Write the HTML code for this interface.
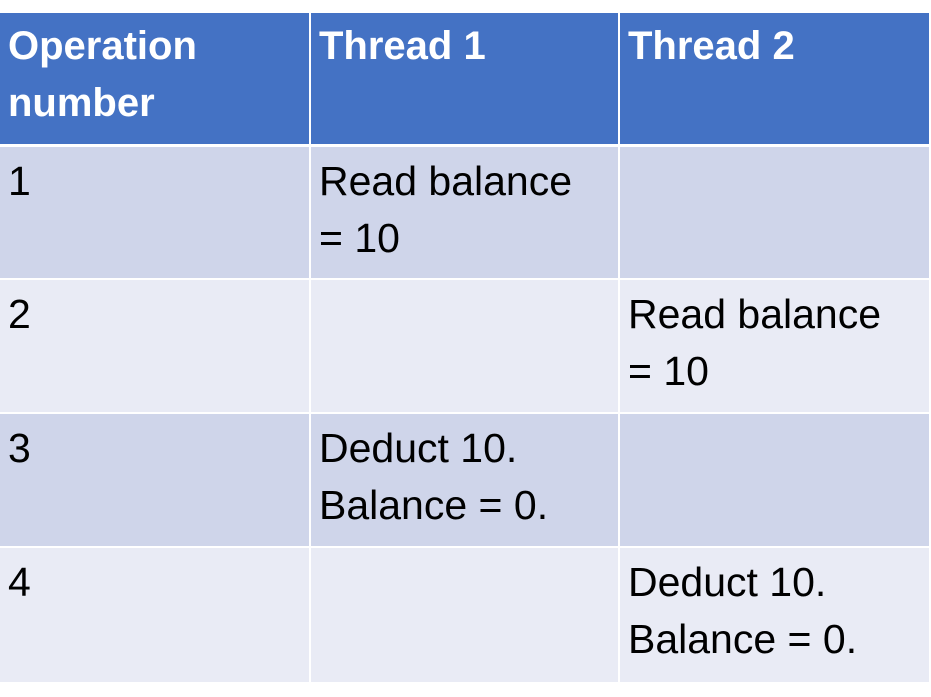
<!DOCTYPE html>
<html><head><style>
body{margin:0;width:931px;height:697px;background:#fff;position:relative;overflow:hidden;font-family:"Liberation Sans",sans-serif;}
.c{position:absolute;box-sizing:border-box;padding:6px 0 0 8px;font-size:41px;line-height:57px;color:#000;white-space:nowrap;}
.h{background:#4472c4;color:#fff;font-weight:bold;font-size:40px;}
.a{background:#cfd5ea;}
.b{background:#e9ebf5;}
</style></head><body>
<div class="c h" style="left:0;top:13px;width:309px;height:131px;padding-top:5px">Operation<br>number</div>
<div class="c h" style="left:311px;top:13px;width:307px;height:131px;padding-top:5px">Thread 1</div>
<div class="c h" style="left:620px;top:13px;width:309px;height:131px;padding-top:5px">Thread 2</div>

<div class="c a" style="left:0;top:147px;width:309px;height:131px">1</div>
<div class="c a" style="left:311px;top:147px;width:307px;height:131px">Read balance<br>= 10</div>
<div class="c a" style="left:620px;top:147px;width:309px;height:131px"></div>

<div class="c b" style="left:0;top:280px;width:309px;height:132px">2</div>
<div class="c b" style="left:311px;top:280px;width:307px;height:132px"></div>
<div class="c b" style="left:620px;top:280px;width:309px;height:132px">Read balance<br>= 10</div>

<div class="c a" style="left:0;top:414px;width:309px;height:132px">3</div>
<div class="c a" style="left:311px;top:414px;width:307px;height:132px">Deduct 10.<br>Balance = 0.</div>
<div class="c a" style="left:620px;top:414px;width:309px;height:132px"></div>

<div class="c b" style="left:0;top:548px;width:309px;height:134px">4</div>
<div class="c b" style="left:311px;top:548px;width:307px;height:134px"></div>
<div class="c b" style="left:620px;top:548px;width:309px;height:134px">Deduct 10.<br>Balance = 0.</div>
</body></html>
